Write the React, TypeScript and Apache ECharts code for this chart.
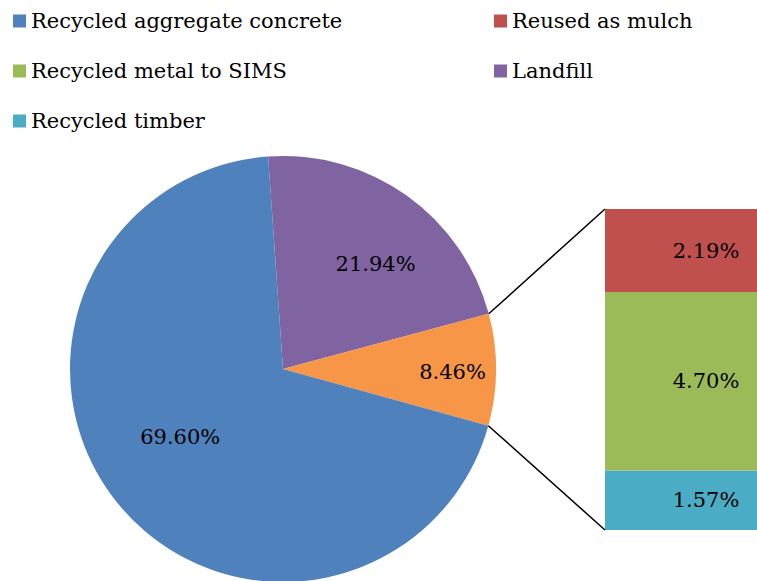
import React, { useEffect, useRef } from "react";
import * as echarts from "echarts";

// ---- data ----
const pieNames = ["Landfill", "Other", "Recycled aggregate concrete"];
const pieValues = [21.94, 8.46, 69.6];
const barNames = ["Recycled timber", "Recycled metal to SIMS", "Reused as mulch"];
const barValues = [1.57, 4.7, 2.19];
const legendLeft = ["Recycled aggregate concrete", "Recycled metal to SIMS", "Recycled timber"];
const legendRight = ["Reused as mulch", "Landfill"];

// ---- styles ----
const pieColors = ["#8064A2", "#F79646", "#4F81BD"];
const barColors = ["#4BACC6", "#9BBB59", "#C0504D"];
const FONT = "DejaVu Serif";
const FS = 21;
const labelShift = [
  { dx: 29, dy: -16 },
  { dx: 60, dy: 3 },
  { dx: -18, dy: -1 },
];

const CX = 283;
const CY = 369;
const R = 213;
const START = 94;
const GRID_LEFT = 605;
const GRID_TOP = 209;
const GRID_W = 202;
const GRID_H = 321;

export default function App() {
  const ref = useRef<HTMLDivElement>(null);
  useEffect(() => {
    if (!ref.current) return;
    const chart = echarts.init(ref.current, null, { renderer: "svg" });
    const total = pieValues.reduce((a, b) => a + b, 0);
    const a1 = START - (pieValues[0] / total) * 360;
    const a2 = a1 - (pieValues[1] / total) * 360;
    const pt = (a: number) => [
      CX + R * Math.cos((a * Math.PI) / 180),
      CY - R * Math.sin((a * Math.PI) / 180),
    ];
    const p1 = pt(a1);
    const p2 = pt(a2);
    const barTotal = barValues.reduce((a, b) => a + b, 0);

    const legendBase = {
      orient: "vertical",
      itemWidth: 13,
      itemHeight: 13,
      itemGap: 26,
      top: 9,
      padding: 0,
      selectedMode: false,
      icon: "rect",
      textStyle: { fontFamily: FONT, fontSize: FS, color: "#000", lineHeight: 24 },
    };

    chart.setOption({
      animation: false,
      textStyle: { fontFamily: FONT },
      legend: [
        { ...legendBase, left: 13, data: legendLeft },
        { ...legendBase, left: 494, data: legendRight },
      ],
      grid: { left: GRID_LEFT, top: GRID_TOP, width: GRID_W, height: GRID_H },
      xAxis: { type: "category", data: ["Other"], show: false },
      yAxis: { type: "value", min: 0, max: barTotal, show: false },
      graphic: [
        {
          type: "line",
          shape: { x1: p1[0], y1: p1[1], x2: GRID_LEFT, y2: GRID_TOP },
          style: { stroke: "#000", lineWidth: 1.5 },
          z: 10,
        },
        {
          type: "line",
          shape: { x1: p2[0], y1: p2[1], x2: GRID_LEFT, y2: GRID_TOP + GRID_H },
          style: { stroke: "#000", lineWidth: 1.5 },
          z: 10,
        },
      ],
      series: [
        {
          type: "pie",
          center: [CX, CY],
          radius: [0, R],
          startAngle: START,
          clockwise: true,
          silent: true,
          label: {
            show: true,
            position: "inside",
            fontFamily: FONT,
            fontSize: FS,
            color: "#000",
            formatter: (p: any) => p.value.toFixed(2) + "%",
          },
          labelLine: { show: false },
          labelLayout: (p: any) => labelShift[p.dataIndex] || {},
          data: pieNames.map((n, i) => ({
            name: n,
            value: pieValues[i],
            itemStyle: { color: pieColors[i] },
          })),
        },
        ...barNames.map((n, i) => ({
          type: "bar",
          name: n,
          stack: "other",
          barWidth: "100%",
          silent: true,
          itemStyle: { color: barColors[i] },
          label: {
            show: true,
            position: "inside",
            offset: [25, 0],
            fontFamily: FONT,
            fontSize: FS,
            color: "#000",
            formatter: (p: any) => p.value.toFixed(2) + "%",
          },
          data: [barValues[i]],
        })),
      ],
    });
    return () => chart.dispose();
  }, []);
  return (
    <div
      ref={ref}
      style={{ position: "fixed", left: 0, top: 0, width: 757, height: 581, background: "#fff" }}
    />
  );
}
